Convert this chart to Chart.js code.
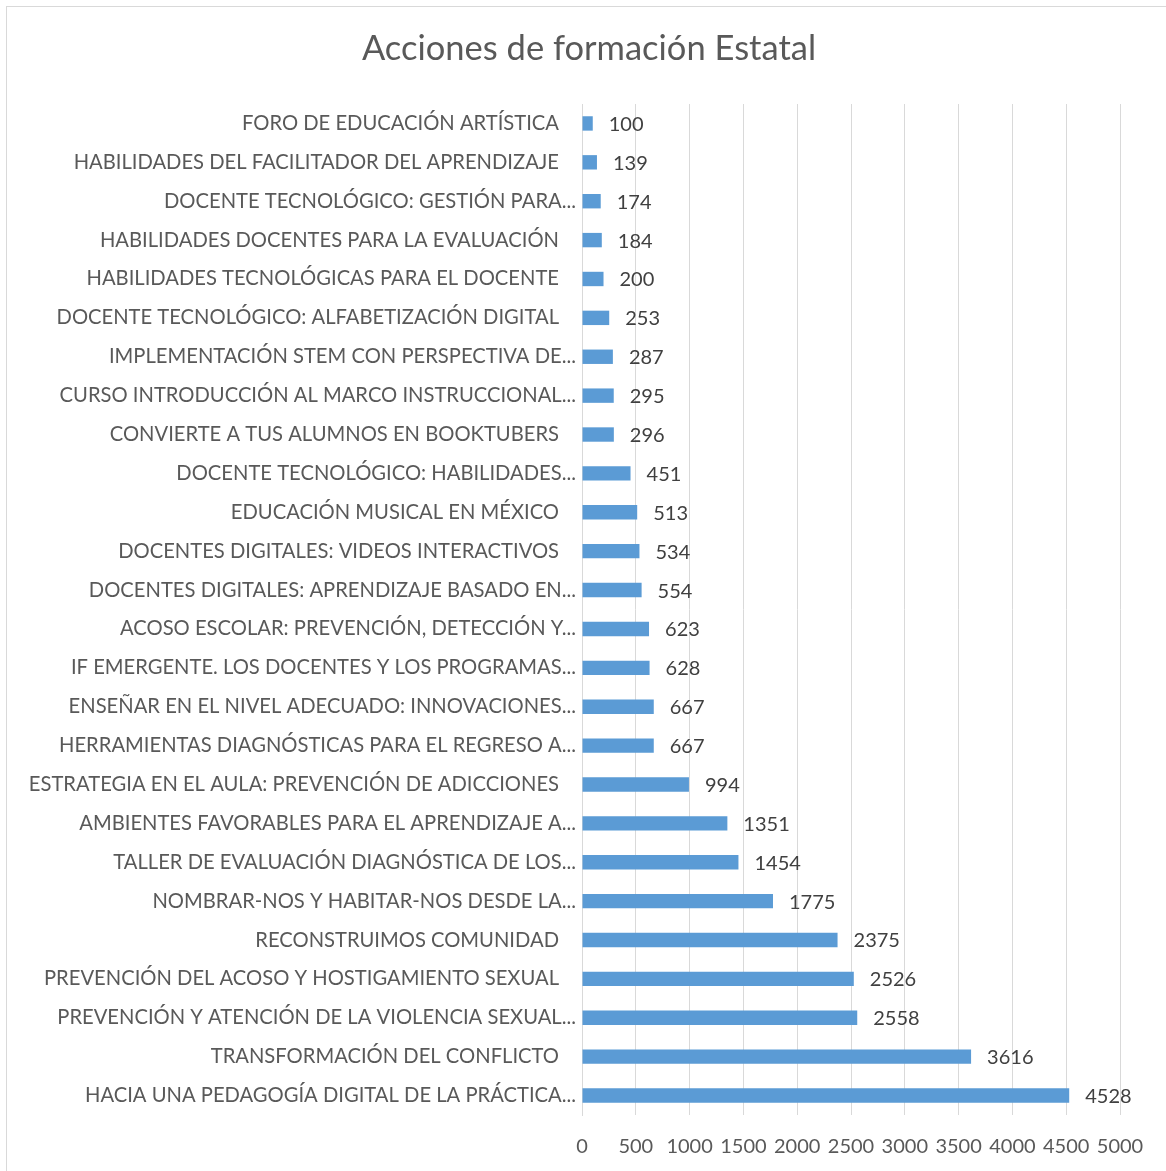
<!DOCTYPE html>
<html>
<head>
<meta charset="utf-8">
<script src="https://cdn.jsdelivr.net/npm/chart.js@4/dist/chart.umd.min.js"></script>
<style>
  html, body { margin: 0; padding: 0; background: #ffffff; }
  #wrap { width: 1166px; height: 1171px; position: relative; }
</style>
</head>
<body>
<div id="wrap"><canvas id="accionesChart"></canvas></div>
<script>
// Datos del gráfico
const titulo = 'Acciones de formación Estatal';
const cursos = [
    'FORO DE EDUCACIÓN ARTÍSTICA',
    'HABILIDADES DEL FACILITADOR DEL APRENDIZAJE',
    'DOCENTE TECNOLÓGICO: GESTIÓN PARA...',
    'HABILIDADES DOCENTES PARA LA EVALUACIÓN',
    'HABILIDADES TECNOLÓGICAS PARA EL DOCENTE',
    'DOCENTE TECNOLÓGICO: ALFABETIZACIÓN DIGITAL',
    'IMPLEMENTACIÓN STEM CON PERSPECTIVA DE...',
    'CURSO INTRODUCCIÓN AL MARCO INSTRUCCIONAL...',
    'CONVIERTE A TUS ALUMNOS EN BOOKTUBERS',
    'DOCENTE TECNOLÓGICO: HABILIDADES...',
    'EDUCACIÓN MUSICAL EN MÉXICO',
    'DOCENTES DIGITALES: VIDEOS INTERACTIVOS',
    'DOCENTES DIGITALES: APRENDIZAJE BASADO EN...',
    'ACOSO ESCOLAR: PREVENCIÓN, DETECCIÓN Y...',
    'IF EMERGENTE. LOS DOCENTES Y LOS PROGRAMAS...',
    'ENSEÑAR EN EL NIVEL ADECUADO: INNOVACIONES...',
    'HERRAMIENTAS DIAGNÓSTICAS PARA EL REGRESO A...',
    'ESTRATEGIA EN EL AULA: PREVENCIÓN DE ADICCIONES',
    'AMBIENTES FAVORABLES PARA EL APRENDIZAJE A...',
    'TALLER DE EVALUACIÓN DIAGNÓSTICA DE LOS...',
    'NOMBRAR-NOS Y HABITAR-NOS DESDE LA...',
    'RECONSTRUIMOS COMUNIDAD',
    'PREVENCIÓN DEL ACOSO Y HOSTIGAMIENTO SEXUAL',
    'PREVENCIÓN Y ATENCIÓN DE LA VIOLENCIA SEXUAL...',
    'TRANSFORMACIÓN DEL CONFLICTO',
    'HACIA UNA PEDAGOGÍA DIGITAL DE LA PRÁCTICA...'
];
const participantes = [100, 139, 174, 184, 200, 253, 287, 295, 296, 451, 513, 534, 554,
    623, 628, 667, 667, 994, 1351, 1454, 1775, 2375, 2526, 2558, 3616, 4528];
const ejeX = [0, 500, 1000, 1500, 2000, 2500, 3000, 3500, 4000, 4500, 5000];

const fuente = 'Lato, "Open Sans", sans-serif';

// Marco y título del gráfico (el título va centrado en todo el marco de Excel)
const marco = {
    id: 'marco',
    beforeDraw(chart) {
        const ctx = chart.ctx;
        ctx.save();
        ctx.fillStyle = '#ffffff';
        ctx.fillRect(0, 0, chart.width, chart.height);
        ctx.strokeStyle = '#d9d9d9';
        ctx.lineWidth = 1;
        ctx.strokeRect(6.5, 6.5, chart.width + 10, chart.height + 10);
        ctx.font = '34.5px ' + fuente;
        ctx.fillStyle = '#595959';
        ctx.textAlign = 'center';
        ctx.textBaseline = 'middle';
        ctx.fillText(titulo, 589, 49);
        ctx.restore();
    }
};

// Nombres de los cursos (los recortados quedan más cerca del eje, como en Excel)
const nombres = {
    id: 'nombres',
    afterDraw(chart) {
        const ctx = chart.ctx;
        const y = chart.scales.y;
        ctx.save();
        ctx.font = '20.2px ' + fuente;
        ctx.fillStyle = '#595959';
        ctx.textAlign = 'right';
        ctx.textBaseline = 'middle';
        cursos.forEach((c, i) => {
            const x = c.endsWith('...') ? y.right - 6 : y.right - 23;
            ctx.fillText(c, x, y.getPixelForTick(i));
        });
        ctx.restore();
    }
};

// Etiquetas de valor al final de cada barra
const etiquetas = {
    id: 'etiquetas',
    afterDatasetsDraw(chart) {
        const ctx = chart.ctx;
        const meta = chart.getDatasetMeta(0);
        ctx.save();
        ctx.font = '20px ' + fuente;
        ctx.fillStyle = '#404040';
        ctx.textAlign = 'left';
        ctx.textBaseline = 'middle';
        meta.data.forEach((bar, i) => {
            ctx.fillText(String(participantes[i]), bar.x + 16, bar.y + 1);
        });
        ctx.restore();
    }
};

const ctxAcciones = document.getElementById('accionesChart').getContext('2d');
const accionesChart = new Chart(ctxAcciones, {
    type: 'bar',
    data: {
        labels: cursos,
        datasets: [{
            label: 'Participantes',
            data: participantes,
            backgroundColor: '#5b9bd5',
            barPercentage: 0.37,
            categoryPercentage: 1
        }]
    },
    options: {
        indexAxis: 'y',
        responsive: true,
        maintainAspectRatio: false,
        animation: false,
        layout: {
            padding: { top: 104, right: 46, bottom: -8, left: 0 }
        },
        plugins: {
            legend: { display: false },
            tooltip: { enabled: false },
            title: { display: false }
        },
        scales: {
            x: {
                min: 0,
                max: 5000,
                afterBuildTicks(axis) {
                    axis.ticks = ejeX.map(v => ({ value: v }));
                },
                grid: { color: '#d9d9d9', drawTicks: false },
                border: { display: false },
                ticks: {
                    color: '#595959',
                    font: { family: fuente, size: 20 },
                    padding: 20,
                    maxRotation: 0,
                    autoSkip: false,
                    callback: v => String(v)
                }
            },
            y: {
                afterFit(axis) { axis.width = 582; },
                grid: { display: false, drawTicks: false },
                border: { display: true, color: '#d9d9d9' },
                ticks: { display: false }
            }
        }
    },
    plugins: [marco, nombres, etiquetas]
});
</script>
</body>
</html>
